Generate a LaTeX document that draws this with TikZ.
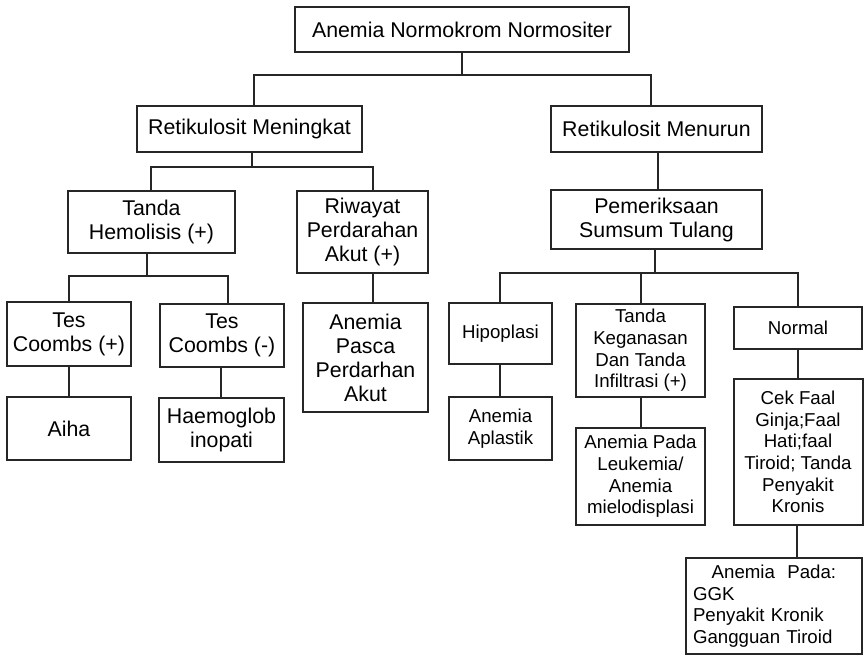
\documentclass[tikz,border=0pt]{standalone}
\usepackage{fontspec}
\setmainfont{Liberation Sans}
\begin{document}
\begin{tikzpicture}[x=0.75pt,y=-0.75pt,
  box/.style={draw=black!85, line width=1.5pt, inner sep=0pt, align=center, text=black},
  big/.style={font=\fontsize{16}{18}\selectfont},
  small/.style={font=\fontsize{14}{16.2}\selectfont},
  dims/.style 2 args={minimum width=#1*0.75pt, minimum height=#2*0.75pt},
  link/.style={draw=black!85, line width=1.5pt}]
\useasboundingbox (0,0) rectangle (864,659);
\fill[white] (0,0) rectangle (864,659);

% boxes
\node[box,big,dims={334}{45}] (top) at (462,29.5) {Anemia Normokrom Normositer};
\node[box,big,dims={225}{46}] (men) at (249.5,129) {Retikulosit Meningkat};
\node[box,big,dims={211}{46}] (mnr) at (656.5,129) {Retikulosit Menurun};
\node[box,big,dims={167}{62}] (hem) at (151.5,222) {Tanda\\Hemolisis (+)};
\node[box,big,dims={131}{82}] (riw) at (362.5,232) {Riwayat\\Perdarahan\\Akut (+)};
\node[box,big,dims={124}{64}] (cp) at (69,334) {Tes\\Coombs (+)};
\node[box,big,dims={124}{63}] (cn) at (222,335.5) {Tes\\Coombs (-)};
\node[box,big,dims={124}{63}] (aiha) at (69,428.5) {Aiha};
\node[box,big,dims={125}{64}] (hae) at (221.5,430) {Haemoglob\\inopati};
\node[box,big,dims={125}{109}] (pas) at (365.5,357.5) {Anemia\\Pasca\\Perdarhan\\Akut};
\node[box,big,dims={211}{59}] (pem) at (656.5,219.5) {Pemeriksaan\\Sumsum Tulang};
\node[box,small,dims={103}{61}] (hip) at (500.5,333.5) {Hipoplasi};
\node[box,small,dims={129}{93}] (keg) at (640.5,350.5) {Tanda\\Keganasan\\Dan Tanda\\Infiltrasi (+)};
\node[box,small,dims={128}{42}] (nor) at (798,328) {Normal};
\node[box,small,dims={103}{63}] (apl) at (500.5,428.5) {Anemia\\Aplastik};
\node[box,small,dims={129}{97}] (leu) at (640.5,476.5) {Anemia Pada\\Leukemia/\\Anemia\\mielodisplasi};
\node[box,small,dims={129}{146}] (cek) at (798,452) {Cek Faal\\Ginja;Faal\\Hati;faal\\Tiroid; Tanda\\Penyakit\\Kronis};
\node[box,small,align=left,inner xsep=7*0.75pt,text width=162*0.75pt,dims={176}{96}] (pada) at (774,606)
  {\hspace*{14pt}Anemia\ \ Pada:\\GGK\\Penyakit Kronik\\Gangguan Tiroid};

% junction points of the connector buses
\coordinate (j0) at (462,75);
\coordinate (j0L) at (254,75);
\coordinate (j0R) at (651,75);
\coordinate (j1) at (252,167);
\coordinate (j1L) at (151,167);
\coordinate (j1R) at (373,167);
\coordinate (j2) at (147,276);
\coordinate (j2L) at (69,276);
\coordinate (j2R) at (228,276);
\coordinate (j3) at (658,160);
\coordinate (j4) at (655,273);
\coordinate (j4L) at (500,273);
\coordinate (j4M) at (641,273);
\coordinate (j4R) at (798,273);

% connectors
\draw[link] (top.south) -- (j0);
\draw[link] (men.north -| j0L) |- (j0R) -- (j0R |- mnr.north);

\draw[link] (men.south -| j1) -- (j1);
\draw[link] (hem.north -| j1L) |- (j1R) -- (j1R |- riw.north);

\draw[link] (hem.south -| j2) -- (j2);
\draw[link] (cp.north -| j2L) |- (j2R) -- (j2R |- cn.north);

\draw[link] (riw.south -| j1R) -- (pas.north -| j1R);
\draw[link] (cp.south) -- (aiha.north);
\draw[link] (cn.south -| 221,0) -- (hae.north -| 221,0);

\draw[link] (mnr.south -| j3) -- (pem.north -| j3);
\draw[link] (pem.south -| j4) -- (j4);
\draw[link] (hip.north -| j4L) |- (j4R) -- (j4R |- nor.north);
\draw[link] (j4M) -- (j4M |- keg.north);
\draw[link] (hip.south -| j4L) -- (apl.north -| j4L);
\draw[link] (keg.south -| j4M) -- (leu.north -| j4M);
\draw[link] (nor.south) -- (cek.north);
\draw[link] (cek.south -| 797,0) -- (pada.north -| 797,0);
\end{tikzpicture}
\end{document}
